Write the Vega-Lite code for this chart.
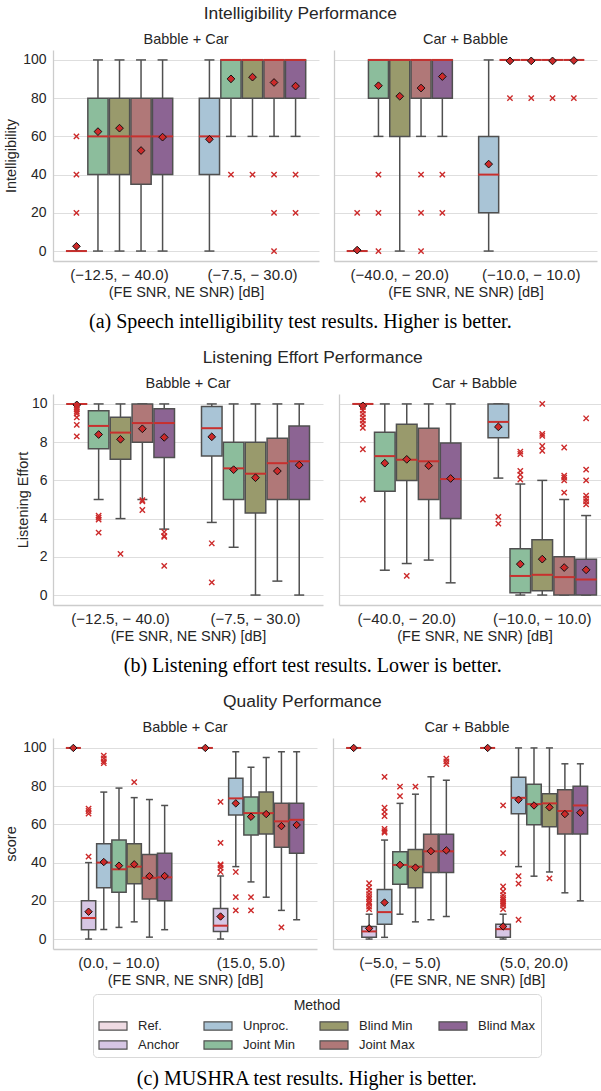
{
"$schema": "https://vega.github.io/schema/vega-lite/v6.json",
"padding": {"left": 3, "top": 5, "right": 0, "bottom": 5},
"background": "white",
"datasets": {
"int_box": [
{"n":"Babble + Car","c":"(−12.5, − 40.0)","m":"Unproc.","lo":0,"q1":0,"md":0,"q3":0,"hi":0,"mn":2.5},
{"n":"Babble + Car","c":"(−12.5, − 40.0)","m":"Joint Min","lo":0,"q1":40,"md":60,"q3":80,"hi":100,"mn":62.5},
{"n":"Babble + Car","c":"(−12.5, − 40.0)","m":"Blind Min","lo":0,"q1":40,"md":60,"q3":80,"hi":100,"mn":64.3},
{"n":"Babble + Car","c":"(−12.5, − 40.0)","m":"Joint Max","lo":0,"q1":35,"md":60,"q3":80,"hi":100,"mn":52.6},
{"n":"Babble + Car","c":"(−12.5, − 40.0)","m":"Blind Max","lo":0,"q1":40,"md":60,"q3":80,"hi":100,"mn":59.6},
{"n":"Babble + Car","c":"(−7.5, − 30.0)","m":"Unproc.","lo":0,"q1":40,"md":60,"q3":80,"hi":100,"mn":58.5},
{"n":"Babble + Car","c":"(−7.5, − 30.0)","m":"Joint Min","lo":60,"q1":80,"md":100,"q3":100,"hi":100,"mn":90.1},
{"n":"Babble + Car","c":"(−7.5, − 30.0)","m":"Blind Min","lo":60,"q1":80,"md":100,"q3":100,"hi":100,"mn":91},
{"n":"Babble + Car","c":"(−7.5, − 30.0)","m":"Joint Max","lo":60,"q1":80,"md":100,"q3":100,"hi":100,"mn":88.2},
{"n":"Babble + Car","c":"(−7.5, − 30.0)","m":"Blind Max","lo":60,"q1":80,"md":100,"q3":100,"hi":100,"mn":86.3},
{"n":"Car + Babble","c":"(−40.0, − 20.0)","m":"Unproc.","lo":0,"q1":0,"md":0,"q3":0,"hi":0,"mn":0.5},
{"n":"Car + Babble","c":"(−40.0, − 20.0)","m":"Joint Min","lo":60,"q1":80,"md":100,"q3":100,"hi":100,"mn":86.5},
{"n":"Car + Babble","c":"(−40.0, − 20.0)","m":"Blind Min","lo":0,"q1":60,"md":100,"q3":100,"hi":100,"mn":81},
{"n":"Car + Babble","c":"(−40.0, − 20.0)","m":"Joint Max","lo":60,"q1":80,"md":100,"q3":100,"hi":100,"mn":85.3},
{"n":"Car + Babble","c":"(−40.0, − 20.0)","m":"Blind Max","lo":60,"q1":80,"md":100,"q3":100,"hi":100,"mn":91.3},
{"n":"Car + Babble","c":"(−10.0, − 10.0)","m":"Unproc.","lo":0,"q1":20,"md":40,"q3":60,"hi":100,"mn":45.5},
{"n":"Car + Babble","c":"(−10.0, − 10.0)","m":"Joint Min","lo":100,"q1":100,"md":100,"q3":100,"hi":100,"mn":99.5},
{"n":"Car + Babble","c":"(−10.0, − 10.0)","m":"Blind Min","lo":100,"q1":100,"md":100,"q3":100,"hi":100,"mn":99.5},
{"n":"Car + Babble","c":"(−10.0, − 10.0)","m":"Joint Max","lo":100,"q1":100,"md":100,"q3":100,"hi":100,"mn":99.5},
{"n":"Car + Babble","c":"(−10.0, − 10.0)","m":"Blind Max","lo":100,"q1":100,"md":100,"q3":100,"hi":100,"mn":99.7}
],
"int_out": [
{"n":"Babble + Car","c":"(−12.5, − 40.0)","m":"Unproc.","v":20},
{"n":"Babble + Car","c":"(−12.5, − 40.0)","m":"Unproc.","v":40},
{"n":"Babble + Car","c":"(−12.5, − 40.0)","m":"Unproc.","v":60},
{"n":"Babble + Car","c":"(−7.5, − 30.0)","m":"Joint Min","v":40},
{"n":"Babble + Car","c":"(−7.5, − 30.0)","m":"Blind Min","v":40},
{"n":"Babble + Car","c":"(−7.5, − 30.0)","m":"Joint Max","v":40},
{"n":"Babble + Car","c":"(−7.5, − 30.0)","m":"Joint Max","v":20},
{"n":"Babble + Car","c":"(−7.5, − 30.0)","m":"Joint Max","v":0},
{"n":"Babble + Car","c":"(−7.5, − 30.0)","m":"Blind Max","v":40},
{"n":"Babble + Car","c":"(−7.5, − 30.0)","m":"Blind Max","v":20},
{"n":"Car + Babble","c":"(−40.0, − 20.0)","m":"Unproc.","v":20},
{"n":"Car + Babble","c":"(−40.0, − 20.0)","m":"Joint Min","v":40},
{"n":"Car + Babble","c":"(−40.0, − 20.0)","m":"Joint Min","v":20},
{"n":"Car + Babble","c":"(−40.0, − 20.0)","m":"Joint Min","v":0},
{"n":"Car + Babble","c":"(−40.0, − 20.0)","m":"Joint Max","v":40},
{"n":"Car + Babble","c":"(−40.0, − 20.0)","m":"Joint Max","v":20},
{"n":"Car + Babble","c":"(−40.0, − 20.0)","m":"Joint Max","v":0},
{"n":"Car + Babble","c":"(−40.0, − 20.0)","m":"Blind Max","v":40},
{"n":"Car + Babble","c":"(−40.0, − 20.0)","m":"Blind Max","v":20},
{"n":"Car + Babble","c":"(−10.0, − 10.0)","m":"Joint Min","v":80},
{"n":"Car + Babble","c":"(−10.0, − 10.0)","m":"Blind Min","v":80},
{"n":"Car + Babble","c":"(−10.0, − 10.0)","m":"Joint Max","v":80},
{"n":"Car + Babble","c":"(−10.0, − 10.0)","m":"Blind Max","v":80}
],
"le_box": [
{"n":"Babble + Car","c":"(−12.5, − 40.0)","m":"Unproc.","lo":10,"q1":10,"md":10,"q3":10,"hi":10,"mn":9.95},
{"n":"Babble + Car","c":"(−12.5, − 40.0)","m":"Joint Min","lo":5.0,"q1":7.65,"md":8.85,"q3":9.65,"hi":10,"mn":8.4},
{"n":"Babble + Car","c":"(−12.5, − 40.0)","m":"Blind Min","lo":4.0,"q1":7.1,"md":8.5,"q3":9.3,"hi":10,"mn":8.15},
{"n":"Babble + Car","c":"(−12.5, − 40.0)","m":"Joint Max","lo":5.0,"q1":8.0,"md":9.0,"q3":10,"hi":10,"mn":8.7},
{"n":"Babble + Car","c":"(−12.5, − 40.0)","m":"Blind Max","lo":3.45,"q1":7.2,"md":9.0,"q3":9.75,"hi":10,"mn":8.25},
{"n":"Babble + Car","c":"(−7.5, − 30.0)","m":"Unproc.","lo":3.8,"q1":7.27,"md":8.73,"q3":9.86,"hi":10,"mn":8.28},
{"n":"Babble + Car","c":"(−7.5, − 30.0)","m":"Joint Min","lo":2.5,"q1":5.0,"md":6.63,"q3":8.0,"hi":10,"mn":6.56},
{"n":"Babble + Car","c":"(−7.5, − 30.0)","m":"Blind Min","lo":0,"q1":4.3,"md":6.35,"q3":8.0,"hi":10,"mn":6.14},
{"n":"Babble + Car","c":"(−7.5, − 30.0)","m":"Joint Max","lo":0.73,"q1":5.0,"md":6.9,"q3":8.2,"hi":10,"mn":6.49},
{"n":"Babble + Car","c":"(−7.5, − 30.0)","m":"Blind Max","lo":0,"q1":5.0,"md":7.0,"q3":8.85,"hi":10,"mn":6.8},
{"n":"Car + Babble","c":"(−40.0, − 20.0)","m":"Unproc.","lo":10,"q1":10,"md":10,"q3":10,"hi":10,"mn":9.9},
{"n":"Car + Babble","c":"(−40.0, − 20.0)","m":"Joint Min","lo":1.3,"q1":5.43,"md":7.27,"q3":8.52,"hi":10,"mn":6.9},
{"n":"Car + Babble","c":"(−40.0, − 20.0)","m":"Blind Min","lo":1.65,"q1":6.0,"md":7.08,"q3":8.94,"hi":10,"mn":7.1},
{"n":"Car + Babble","c":"(−40.0, − 20.0)","m":"Joint Max","lo":1.83,"q1":5.0,"md":7.0,"q3":8.73,"hi":10,"mn":6.77},
{"n":"Car + Babble","c":"(−40.0, − 20.0)","m":"Blind Max","lo":0.64,"q1":4.0,"md":6.07,"q3":7.95,"hi":10,"mn":6.1},
{"n":"Car + Babble","c":"(−10.0, − 10.0)","m":"Unproc.","lo":6.12,"q1":8.23,"md":9.06,"q3":10,"hi":10,"mn":8.8},
{"n":"Car + Babble","c":"(−10.0, − 10.0)","m":"Joint Min","lo":0,"q1":0.12,"md":1.0,"q3":2.42,"hi":5.81,"mn":1.62},
{"n":"Car + Babble","c":"(−10.0, − 10.0)","m":"Blind Min","lo":0,"q1":0.23,"md":1.06,"q3":2.9,"hi":6.0,"mn":1.88},
{"n":"Car + Babble","c":"(−10.0, − 10.0)","m":"Joint Max","lo":0,"q1":0,"md":0.94,"q3":2.0,"hi":5.0,"mn":1.44},
{"n":"Car + Babble","c":"(−10.0, − 10.0)","m":"Blind Max","lo":0,"q1":0,"md":0.82,"q3":1.88,"hi":4.16,"mn":1.32}
],
"le_out": [
{"n":"Babble + Car","c":"(−12.5, − 40.0)","m":"Unproc.","v":9.9},
{"n":"Babble + Car","c":"(−12.5, − 40.0)","m":"Unproc.","v":9.8},
{"n":"Babble + Car","c":"(−12.5, − 40.0)","m":"Unproc.","v":9.7},
{"n":"Babble + Car","c":"(−12.5, − 40.0)","m":"Unproc.","v":9.6},
{"n":"Babble + Car","c":"(−12.5, − 40.0)","m":"Unproc.","v":9.5},
{"n":"Babble + Car","c":"(−12.5, − 40.0)","m":"Unproc.","v":9.3},
{"n":"Babble + Car","c":"(−12.5, − 40.0)","m":"Unproc.","v":8.9},
{"n":"Babble + Car","c":"(−12.5, − 40.0)","m":"Unproc.","v":8.3},
{"n":"Babble + Car","c":"(−12.5, − 40.0)","m":"Joint Min","v":4.15},
{"n":"Babble + Car","c":"(−12.5, − 40.0)","m":"Joint Min","v":4.05},
{"n":"Babble + Car","c":"(−12.5, − 40.0)","m":"Joint Min","v":3.95},
{"n":"Babble + Car","c":"(−12.5, − 40.0)","m":"Joint Min","v":3.27},
{"n":"Babble + Car","c":"(−12.5, − 40.0)","m":"Blind Min","v":2.16},
{"n":"Babble + Car","c":"(−12.5, − 40.0)","m":"Joint Max","v":4.97},
{"n":"Babble + Car","c":"(−12.5, − 40.0)","m":"Joint Max","v":4.9},
{"n":"Babble + Car","c":"(−12.5, − 40.0)","m":"Joint Max","v":4.45},
{"n":"Babble + Car","c":"(−12.5, − 40.0)","m":"Blind Max","v":3.3},
{"n":"Babble + Car","c":"(−12.5, − 40.0)","m":"Blind Max","v":3.1},
{"n":"Babble + Car","c":"(−12.5, − 40.0)","m":"Blind Max","v":3.05},
{"n":"Babble + Car","c":"(−12.5, − 40.0)","m":"Blind Max","v":1.53},
{"n":"Babble + Car","c":"(−7.5, − 30.0)","m":"Unproc.","v":2.71},
{"n":"Babble + Car","c":"(−7.5, − 30.0)","m":"Unproc.","v":0.66},
{"n":"Car + Babble","c":"(−40.0, − 20.0)","m":"Unproc.","v":9.83},
{"n":"Car + Babble","c":"(−40.0, − 20.0)","m":"Unproc.","v":9.65},
{"n":"Car + Babble","c":"(−40.0, − 20.0)","m":"Unproc.","v":9.48},
{"n":"Car + Babble","c":"(−40.0, − 20.0)","m":"Unproc.","v":9.3},
{"n":"Car + Babble","c":"(−40.0, − 20.0)","m":"Unproc.","v":9.13},
{"n":"Car + Babble","c":"(−40.0, − 20.0)","m":"Unproc.","v":8.96},
{"n":"Car + Babble","c":"(−40.0, − 20.0)","m":"Unproc.","v":8.75},
{"n":"Car + Babble","c":"(−40.0, − 20.0)","m":"Unproc.","v":7.63},
{"n":"Car + Babble","c":"(−40.0, − 20.0)","m":"Unproc.","v":5.0},
{"n":"Car + Babble","c":"(−40.0, − 20.0)","m":"Blind Min","v":1.0},
{"n":"Car + Babble","c":"(−10.0, − 10.0)","m":"Unproc.","v":4.09},
{"n":"Car + Babble","c":"(−10.0, − 10.0)","m":"Unproc.","v":3.74},
{"n":"Car + Babble","c":"(−10.0, − 10.0)","m":"Joint Min","v":7.5},
{"n":"Car + Babble","c":"(−10.0, − 10.0)","m":"Joint Min","v":7.38},
{"n":"Car + Babble","c":"(−10.0, − 10.0)","m":"Joint Min","v":6.5},
{"n":"Car + Babble","c":"(−10.0, − 10.0)","m":"Joint Min","v":6.3},
{"n":"Car + Babble","c":"(−10.0, − 10.0)","m":"Joint Min","v":6.04},
{"n":"Car + Babble","c":"(−10.0, − 10.0)","m":"Blind Min","v":10.0},
{"n":"Car + Babble","c":"(−10.0, − 10.0)","m":"Blind Min","v":8.43},
{"n":"Car + Babble","c":"(−10.0, − 10.0)","m":"Blind Min","v":8.33},
{"n":"Car + Babble","c":"(−10.0, − 10.0)","m":"Blind Min","v":7.8},
{"n":"Car + Babble","c":"(−10.0, − 10.0)","m":"Blind Min","v":7.55},
{"n":"Car + Babble","c":"(−10.0, − 10.0)","m":"Joint Max","v":7.72},
{"n":"Car + Babble","c":"(−10.0, − 10.0)","m":"Joint Max","v":6.25},
{"n":"Car + Babble","c":"(−10.0, − 10.0)","m":"Joint Max","v":6.14},
{"n":"Car + Babble","c":"(−10.0, − 10.0)","m":"Joint Max","v":6.0},
{"n":"Car + Babble","c":"(−10.0, − 10.0)","m":"Joint Max","v":5.36},
{"n":"Car + Babble","c":"(−10.0, − 10.0)","m":"Blind Max","v":9.25},
{"n":"Car + Babble","c":"(−10.0, − 10.0)","m":"Blind Max","v":6.56},
{"n":"Car + Babble","c":"(−10.0, − 10.0)","m":"Blind Max","v":6.0},
{"n":"Car + Babble","c":"(−10.0, − 10.0)","m":"Blind Max","v":5.2},
{"n":"Car + Babble","c":"(−10.0, − 10.0)","m":"Blind Max","v":5.04},
{"n":"Car + Babble","c":"(−10.0, − 10.0)","m":"Blind Max","v":4.9},
{"n":"Car + Babble","c":"(−10.0, − 10.0)","m":"Blind Max","v":4.74}
],
"q_box": [
{"n":"Babble + Car","c":"(0.0, − 10.0)","m":"Ref.","lo":100,"q1":100,"md":100,"q3":100,"hi":100,"mn":100},
{"n":"Babble + Car","c":"(0.0, − 10.0)","m":"Anchor","lo":0,"q1":4.9,"md":11,"q3":20,"hi":40,"mn":14.3},
{"n":"Babble + Car","c":"(0.0, − 10.0)","m":"Unproc.","lo":5,"q1":26.8,"md":40,"q3":49.9,"hi":76.9,"mn":40.3},
{"n":"Babble + Car","c":"(0.0, − 10.0)","m":"Joint Min","lo":6.1,"q1":24.5,"md":36.5,"q3":51.8,"hi":79,"mn":38.4},
{"n":"Babble + Car","c":"(0.0, − 10.0)","m":"Blind Min","lo":9,"q1":28.9,"md":37.9,"q3":49.9,"hi":74,"mn":39.1},
{"n":"Babble + Car","c":"(0.0, − 10.0)","m":"Joint Max","lo":1,"q1":20.9,"md":32,"q3":44.2,"hi":73,"mn":32.9},
{"n":"Babble + Car","c":"(0.0, − 10.0)","m":"Blind Max","lo":4.9,"q1":20,"md":32.3,"q3":44.9,"hi":69.9,"mn":33},
{"n":"Babble + Car","c":"(15.0, 5.0)","m":"Ref.","lo":100,"q1":100,"md":100,"q3":100,"hi":100,"mn":100},
{"n":"Babble + Car","c":"(15.0, 5.0)","m":"Anchor","lo":0,"q1":4,"md":7,"q3":16,"hi":33,"mn":11.8},
{"n":"Babble + Car","c":"(15.0, 5.0)","m":"Unproc.","lo":37.9,"q1":64.9,"md":73.6,"q3":84.2,"hi":98,"mn":71},
{"n":"Babble + Car","c":"(15.0, 5.0)","m":"Joint Min","lo":29.9,"q1":54.4,"md":65.9,"q3":74.3,"hi":89.9,"mn":64},
{"n":"Babble + Car","c":"(15.0, 5.0)","m":"Blind Min","lo":21.9,"q1":55,"md":65.9,"q3":77,"hi":95,"mn":65.4},
{"n":"Babble + Car","c":"(15.0, 5.0)","m":"Joint Max","lo":15,"q1":48,"md":61.6,"q3":71,"hi":98,"mn":59.1},
{"n":"Babble + Car","c":"(15.0, 5.0)","m":"Blind Max","lo":10.1,"q1":44.9,"md":62.4,"q3":71,"hi":98,"mn":59.7},
{"n":"Car + Babble","c":"(−5.0, − 5.0)","m":"Ref.","lo":100,"q1":100,"md":100,"q3":100,"hi":100,"mn":100},
{"n":"Car + Babble","c":"(−5.0, − 5.0)","m":"Anchor","lo":0,"q1":0.9,"md":4,"q3":6.6,"hi":13,"mn":5.6},
{"n":"Car + Babble","c":"(−5.0, − 5.0)","m":"Unproc.","lo":0.9,"q1":7.8,"md":14.1,"q3":25.9,"hi":51.8,"mn":19.1},
{"n":"Car + Babble","c":"(−5.0, − 5.0)","m":"Joint Min","lo":13,"q1":28.7,"md":38.8,"q3":45.7,"hi":71,"mn":38.8},
{"n":"Car + Babble","c":"(−5.0, − 5.0)","m":"Blind Min","lo":9,"q1":26.8,"md":37.9,"q3":46.8,"hi":75.8,"mn":37.4},
{"n":"Car + Babble","c":"(−5.0, − 5.0)","m":"Joint Max","lo":10.1,"q1":34.8,"md":45.9,"q3":54.8,"hi":84.9,"mn":46},
{"n":"Car + Babble","c":"(−5.0, − 5.0)","m":"Blind Max","lo":11.8,"q1":34.8,"md":45.9,"q3":54.8,"hi":83.1,"mn":46.4},
{"n":"Car + Babble","c":"(5.0, 20.0)","m":"Ref.","lo":100,"q1":100,"md":100,"q3":100,"hi":100,"mn":100},
{"n":"Car + Babble","c":"(5.0, 20.0)","m":"Anchor","lo":0,"q1":0.9,"md":5.2,"q3":7.8,"hi":13,"mn":6.6},
{"n":"Car + Babble","c":"(5.0, 20.0)","m":"Unproc.","lo":37.9,"q1":65.6,"md":73.9,"q3":84.7,"hi":100,"mn":72.9},
{"n":"Car + Babble","c":"(5.0, 20.0)","m":"Joint Min","lo":32.9,"q1":59.8,"md":70.6,"q3":81,"hi":100,"mn":69.9},
{"n":"Car + Babble","c":"(5.0, 20.0)","m":"Blind Min","lo":35.1,"q1":58.8,"md":71,"q3":76,"hi":100,"mn":68.9},
{"n":"Car + Babble","c":"(5.0, 20.0)","m":"Joint Max","lo":24.2,"q1":55,"md":67,"q3":78.1,"hi":91.7,"mn":65.4},
{"n":"Car + Babble","c":"(5.0, 20.0)","m":"Blind Max","lo":20,"q1":55,"md":69.9,"q3":80,"hi":91.7,"mn":66.1}
],
"q_out": [
{"n":"Babble + Car","c":"(0.0, − 10.0)","m":"Anchor","v":43.1},
{"n":"Babble + Car","c":"(0.0, − 10.0)","m":"Anchor","v":68.2},
{"n":"Babble + Car","c":"(0.0, − 10.0)","m":"Anchor","v":67},
{"n":"Babble + Car","c":"(0.0, − 10.0)","m":"Anchor","v":65.6},
{"n":"Babble + Car","c":"(0.0, − 10.0)","m":"Unproc.","v":96},
{"n":"Babble + Car","c":"(0.0, − 10.0)","m":"Unproc.","v":94.5},
{"n":"Babble + Car","c":"(0.0, − 10.0)","m":"Unproc.","v":93},
{"n":"Babble + Car","c":"(0.0, − 10.0)","m":"Unproc.","v":92},
{"n":"Babble + Car","c":"(0.0, − 10.0)","m":"Blind Min","v":82.1},
{"n":"Babble + Car","c":"(15.0, 5.0)","m":"Anchor","v":35.1},
{"n":"Babble + Car","c":"(15.0, 5.0)","m":"Anchor","v":37.2},
{"n":"Babble + Car","c":"(15.0, 5.0)","m":"Anchor","v":38.5},
{"n":"Babble + Car","c":"(15.0, 5.0)","m":"Anchor","v":39.1},
{"n":"Babble + Car","c":"(15.0, 5.0)","m":"Anchor","v":50.3},
{"n":"Babble + Car","c":"(15.0, 5.0)","m":"Anchor","v":71.8},
{"n":"Babble + Car","c":"(15.0, 5.0)","m":"Unproc.","v":35.1},
{"n":"Babble + Car","c":"(15.0, 5.0)","m":"Unproc.","v":21.9},
{"n":"Babble + Car","c":"(15.0, 5.0)","m":"Unproc.","v":15},
{"n":"Babble + Car","c":"(15.0, 5.0)","m":"Joint Min","v":21.9},
{"n":"Babble + Car","c":"(15.0, 5.0)","m":"Joint Min","v":15},
{"n":"Babble + Car","c":"(15.0, 5.0)","m":"Joint Max","v":6.1},
{"n":"Car + Babble","c":"(−5.0, − 5.0)","m":"Anchor","v":29.2},
{"n":"Car + Babble","c":"(−5.0, − 5.0)","m":"Anchor","v":27},
{"n":"Car + Babble","c":"(−5.0, − 5.0)","m":"Anchor","v":25.2},
{"n":"Car + Babble","c":"(−5.0, − 5.0)","m":"Anchor","v":23.5},
{"n":"Car + Babble","c":"(−5.0, − 5.0)","m":"Anchor","v":22},
{"n":"Car + Babble","c":"(−5.0, − 5.0)","m":"Anchor","v":20.9},
{"n":"Car + Babble","c":"(−5.0, − 5.0)","m":"Anchor","v":19.5},
{"n":"Car + Babble","c":"(−5.0, − 5.0)","m":"Anchor","v":18.5},
{"n":"Car + Babble","c":"(−5.0, − 5.0)","m":"Anchor","v":17},
{"n":"Car + Babble","c":"(−5.0, − 5.0)","m":"Anchor","v":15.7},
{"n":"Car + Babble","c":"(−5.0, − 5.0)","m":"Unproc.","v":84.9},
{"n":"Car + Babble","c":"(−5.0, − 5.0)","m":"Unproc.","v":68.7},
{"n":"Car + Babble","c":"(−5.0, − 5.0)","m":"Unproc.","v":66.5},
{"n":"Car + Babble","c":"(−5.0, − 5.0)","m":"Unproc.","v":64.3},
{"n":"Car + Babble","c":"(−5.0, − 5.0)","m":"Unproc.","v":57.7},
{"n":"Car + Babble","c":"(−5.0, − 5.0)","m":"Unproc.","v":56.5},
{"n":"Car + Babble","c":"(−5.0, − 5.0)","m":"Unproc.","v":55.7},
{"n":"Car + Babble","c":"(−5.0, − 5.0)","m":"Joint Min","v":79.8},
{"n":"Car + Babble","c":"(−5.0, − 5.0)","m":"Joint Min","v":74.8},
{"n":"Car + Babble","c":"(−5.0, − 5.0)","m":"Blind Min","v":79.8},
{"n":"Car + Babble","c":"(−5.0, − 5.0)","m":"Blind Max","v":94.4},
{"n":"Car + Babble","c":"(−5.0, − 5.0)","m":"Blind Max","v":93},
{"n":"Car + Babble","c":"(−5.0, − 5.0)","m":"Blind Max","v":91.6},
{"n":"Car + Babble","c":"(5.0, 20.0)","m":"Anchor","v":69.9},
{"n":"Car + Babble","c":"(5.0, 20.0)","m":"Anchor","v":45},
{"n":"Car + Babble","c":"(5.0, 20.0)","m":"Anchor","v":27.5},
{"n":"Car + Babble","c":"(5.0, 20.0)","m":"Anchor","v":25},
{"n":"Car + Babble","c":"(5.0, 20.0)","m":"Anchor","v":23},
{"n":"Car + Babble","c":"(5.0, 20.0)","m":"Anchor","v":21.5},
{"n":"Car + Babble","c":"(5.0, 20.0)","m":"Anchor","v":20.5},
{"n":"Car + Babble","c":"(5.0, 20.0)","m":"Anchor","v":19.5},
{"n":"Car + Babble","c":"(5.0, 20.0)","m":"Anchor","v":18.5},
{"n":"Car + Babble","c":"(5.0, 20.0)","m":"Anchor","v":17.5},
{"n":"Car + Babble","c":"(5.0, 20.0)","m":"Anchor","v":15.7},
{"n":"Car + Babble","c":"(5.0, 20.0)","m":"Unproc.","v":32.9},
{"n":"Car + Babble","c":"(5.0, 20.0)","m":"Unproc.","v":29},
{"n":"Car + Babble","c":"(5.0, 20.0)","m":"Unproc.","v":10.1},
{"n":"Car + Babble","c":"(5.0, 20.0)","m":"Blind Min","v":31.8}
]
},
"vconcat": [
{
"vconcat": [{
"hconcat": [
{
"width": 266, "height": 211,
"title": {"text": "Babble + Car", "fontSize": 14.5, "frame": "group", "offset": 3},
"encoding": {
"x": {"field": "c", "type": "nominal", "scale": {"domain": ["(−12.5, − 40.0)", "(−7.5, − 30.0)"], "paddingInner": 0.2, "paddingOuter": 0.1}, "axis": {"title": "(FE SNR, NE SNR) [dB]"}},
"xOffset": {"field": "m", "type": "nominal", "scale": {"domain": ["Unproc.", "Joint Min", "Blind Min", "Joint Max", "Blind Max"], "paddingInner": 0.06, "paddingOuter": 0}}
},
"layer": [
{"data": {"name": "int_box"}, "transform": [{"filter": "datum.n === 'Babble + Car'"}],
"layer": [
{"mark": {"type": "rule", "color": "#505050", "strokeWidth": 1.5}, "encoding": {"y": {"field": "lo", "type": "quantitative", "scale": {"domain": [-5.2, 105.2], "nice": false, "zero": false}, "axis": {"title": "Intelligibility", "values": [0, 20, 40, 60, 80, 100]}}, "y2": {"field": "hi"}}},
{"mark": {"type": "tick", "color": "#505050", "thickness": 1.5, "size": 10, "opacity": 1}, "encoding": {"y": {"field": "lo", "type": "quantitative"}}},
{"mark": {"type": "tick", "color": "#505050", "thickness": 1.5, "size": 10, "opacity": 1}, "encoding": {"y": {"field": "hi", "type": "quantitative"}}},
{"mark": {"type": "bar", "stroke": "#505050", "strokeWidth": 1.5, "opacity": 1}, "encoding": {"y": {"field": "q1", "type": "quantitative"}, "y2": {"field": "q3"}, "color": {"field": "m", "type": "nominal", "scale": {"domain": ["Ref.", "Unproc.", "Blind Min", "Blind Max", "Anchor", "Joint Min", "Joint Max"], "range": ["#efdbe3", "#a9c4d6", "#999a6c", "#8c6493", "#d6c6e4", "#8cbd9c", "#b07878"]}, "legend": {"title": "Method", "orient": "none", "legendX": 40, "legendY": 944}}}},
{"mark": {"type": "tick", "color": "#c8302e", "thickness": 2, "size": 21, "opacity": 1}, "encoding": {"y": {"field": "md", "type": "quantitative"}}},
{"mark": {"type": "point", "shape": "diamond", "filled": true, "fill": "#cc2a2a", "stroke": "#111111", "strokeWidth": 1, "size": 60, "opacity": 1}, "encoding": {"y": {"field": "mn", "type": "quantitative"}}}
]},
{"data": {"name": "int_out"}, "transform": [{"filter": "datum.n === 'Babble + Car'"}],
"mark": {"type": "point", "shape": "M-1,-1L1,1M1,-1L-1,1", "filled": false, "stroke": "#cc2a2a", "strokeWidth": 1.4, "size": 28, "opacity": 1},
"encoding": {"y": {"field": "v", "type": "quantitative"}}}
]
},
{
"width": 263, "height": 211,
"title": {"text": "Car + Babble", "fontSize": 14.5, "frame": "group", "offset": 3},
"encoding": {
"x": {"field": "c", "type": "nominal", "scale": {"domain": ["(−40.0, − 20.0)", "(−10.0, − 10.0)"], "paddingInner": 0.2, "paddingOuter": 0.1}, "axis": {"title": "(FE SNR, NE SNR) [dB]"}},
"xOffset": {"field": "m", "type": "nominal", "scale": {"domain": ["Unproc.", "Joint Min", "Blind Min", "Joint Max", "Blind Max"], "paddingInner": 0.06, "paddingOuter": 0}}
},
"layer": [
{"data": {"name": "int_box"}, "transform": [{"filter": "datum.n === 'Car + Babble'"}],
"layer": [
{"mark": {"type": "rule", "color": "#505050", "strokeWidth": 1.5}, "encoding": {"y": {"field": "lo", "type": "quantitative", "scale": {"domain": [-5.2, 105.2], "nice": false, "zero": false}, "axis": {"title": null, "labels": false, "values": [0, 20, 40, 60, 80, 100]}}, "y2": {"field": "hi"}}},
{"mark": {"type": "tick", "color": "#505050", "thickness": 1.5, "size": 10, "opacity": 1}, "encoding": {"y": {"field": "lo", "type": "quantitative"}}},
{"mark": {"type": "tick", "color": "#505050", "thickness": 1.5, "size": 10, "opacity": 1}, "encoding": {"y": {"field": "hi", "type": "quantitative"}}},
{"mark": {"type": "bar", "stroke": "#505050", "strokeWidth": 1.5, "opacity": 1}, "encoding": {"y": {"field": "q1", "type": "quantitative"}, "y2": {"field": "q3"}, "color": {"field": "m", "type": "nominal"}}},
{"mark": {"type": "tick", "color": "#c8302e", "thickness": 2, "size": 21, "opacity": 1}, "encoding": {"y": {"field": "md", "type": "quantitative"}}},
{"mark": {"type": "point", "shape": "diamond", "filled": true, "fill": "#cc2a2a", "stroke": "#111111", "strokeWidth": 1, "size": 60, "opacity": 1}, "encoding": {"y": {"field": "mn", "type": "quantitative"}}}
]},
{"data": {"name": "int_out"}, "transform": [{"filter": "datum.n === 'Car + Babble'"}],
"mark": {"type": "point", "shape": "M-1,-1L1,1M1,-1L-1,1", "filled": false, "stroke": "#cc2a2a", "strokeWidth": 1.4, "size": 28, "opacity": 1},
"encoding": {"y": {"field": "v", "type": "quantitative"}}}
]
}
],
"spacing": 15,
"resolve": {"scale": {"xOffset": "independent"}},
"title": {"text": "Intelligibility Performance", "offset": 9}
}],
"resolve": {"scale": {"xOffset": "independent"}},
"title": {"text": "(a) Speech intelligibility test results. Higher is better.", "orient": "bottom", "font": "Liberation Serif", "fontSize": 20, "color": "#000000", "offset": 13}
},
{
"vconcat": [{
"hconcat": [
{
"width": 270, "height": 211,
"title": {"text": "Babble + Car", "fontSize": 14.5, "frame": "group", "offset": 3},
"encoding": {
"x": {"field": "c", "type": "nominal", "scale": {"domain": ["(−12.5, − 40.0)", "(−7.5, − 30.0)"], "paddingInner": 0.2, "paddingOuter": 0.1}, "axis": {"title": "(FE SNR, NE SNR) [dB]"}},
"xOffset": {"field": "m", "type": "nominal", "scale": {"domain": ["Unproc.", "Joint Min", "Blind Min", "Joint Max", "Blind Max"], "paddingInner": 0.06, "paddingOuter": 0}}
},
"layer": [
{"data": {"name": "le_box"}, "transform": [{"filter": "datum.n === 'Babble + Car'"}],
"layer": [
{"mark": {"type": "rule", "color": "#505050", "strokeWidth": 1.5}, "encoding": {"y": {"field": "lo", "type": "quantitative", "scale": {"domain": [-0.52, 10.52], "nice": false, "zero": false}, "axis": {"title": "Listening Effort", "values": [0, 2, 4, 6, 8, 10], "titlePadding": 1, "labelPadding": 6}}, "y2": {"field": "hi"}}},
{"mark": {"type": "tick", "color": "#505050", "thickness": 1.5, "size": 10, "opacity": 1}, "encoding": {"y": {"field": "lo", "type": "quantitative"}}},
{"mark": {"type": "tick", "color": "#505050", "thickness": 1.5, "size": 10, "opacity": 1}, "encoding": {"y": {"field": "hi", "type": "quantitative"}}},
{"mark": {"type": "bar", "stroke": "#505050", "strokeWidth": 1.5, "opacity": 1}, "encoding": {"y": {"field": "q1", "type": "quantitative"}, "y2": {"field": "q3"}, "color": {"field": "m", "type": "nominal"}}},
{"mark": {"type": "tick", "color": "#c8302e", "thickness": 2, "size": 21, "opacity": 1}, "encoding": {"y": {"field": "md", "type": "quantitative"}}},
{"mark": {"type": "point", "shape": "diamond", "filled": true, "fill": "#cc2a2a", "stroke": "#111111", "strokeWidth": 1, "size": 60, "opacity": 1}, "encoding": {"y": {"field": "mn", "type": "quantitative"}}}
]},
{"data": {"name": "le_out"}, "transform": [{"filter": "datum.n === 'Babble + Car'"}],
"mark": {"type": "point", "shape": "M-1,-1L1,1M1,-1L-1,1", "filled": false, "stroke": "#cc2a2a", "strokeWidth": 1.4, "size": 28, "opacity": 1},
"encoding": {"y": {"field": "v", "type": "quantitative"}}}
]
},
{
"width": 271, "height": 211,
"title": {"text": "Car + Babble", "fontSize": 14.5, "frame": "group", "offset": 3},
"encoding": {
"x": {"field": "c", "type": "nominal", "scale": {"domain": ["(−40.0, − 20.0)", "(−10.0, − 10.0)"], "paddingInner": 0.2, "paddingOuter": 0.1}, "axis": {"title": "(FE SNR, NE SNR) [dB]"}},
"xOffset": {"field": "m", "type": "nominal", "scale": {"domain": ["Unproc.", "Joint Min", "Blind Min", "Joint Max", "Blind Max"], "paddingInner": 0.06, "paddingOuter": 0}}
},
"layer": [
{"data": {"name": "le_box"}, "transform": [{"filter": "datum.n === 'Car + Babble'"}],
"layer": [
{"mark": {"type": "rule", "color": "#505050", "strokeWidth": 1.5}, "encoding": {"y": {"field": "lo", "type": "quantitative", "scale": {"domain": [-0.52, 10.52], "nice": false, "zero": false}, "axis": {"title": null, "labels": false, "values": [0, 2, 4, 6, 8, 10]}}, "y2": {"field": "hi"}}},
{"mark": {"type": "tick", "color": "#505050", "thickness": 1.5, "size": 10, "opacity": 1}, "encoding": {"y": {"field": "lo", "type": "quantitative"}}},
{"mark": {"type": "tick", "color": "#505050", "thickness": 1.5, "size": 10, "opacity": 1}, "encoding": {"y": {"field": "hi", "type": "quantitative"}}},
{"mark": {"type": "bar", "stroke": "#505050", "strokeWidth": 1.5, "opacity": 1}, "encoding": {"y": {"field": "q1", "type": "quantitative"}, "y2": {"field": "q3"}, "color": {"field": "m", "type": "nominal"}}},
{"mark": {"type": "tick", "color": "#c8302e", "thickness": 2, "size": 21, "opacity": 1}, "encoding": {"y": {"field": "md", "type": "quantitative"}}},
{"mark": {"type": "point", "shape": "diamond", "filled": true, "fill": "#cc2a2a", "stroke": "#111111", "strokeWidth": 1, "size": 60, "opacity": 1}, "encoding": {"y": {"field": "mn", "type": "quantitative"}}}
]},
{"data": {"name": "le_out"}, "transform": [{"filter": "datum.n === 'Car + Babble'"}],
"mark": {"type": "point", "shape": "M-1,-1L1,1M1,-1L-1,1", "filled": false, "stroke": "#cc2a2a", "strokeWidth": 1.4, "size": 28, "opacity": 1},
"encoding": {"y": {"field": "v", "type": "quantitative"}}}
]
}
],
"spacing": 16,
"resolve": {"scale": {"xOffset": "independent"}},
"title": {"text": "Listening Effort Performance", "offset": 9}
}],
"resolve": {"scale": {"xOffset": "independent"}},
"title": {"text": "(b) Listening effort test results. Lower is better.", "orient": "bottom", "font": "Liberation Serif", "fontSize": 20, "color": "#000000", "offset": 13}
},
{
"hconcat": [
{
"width": 264, "height": 211,
"title": {"text": "Babble + Car", "fontSize": 14.5, "frame": "group", "offset": 3},
"encoding": {
"x": {"field": "c", "type": "nominal", "scale": {"domain": ["(0.0, − 10.0)", "(15.0, 5.0)"], "paddingInner": 0.2, "paddingOuter": 0.1}, "axis": {"title": "(FE SNR, NE SNR) [dB]"}},
"xOffset": {"field": "m", "type": "nominal", "scale": {"domain": ["Ref.", "Anchor", "Unproc.", "Joint Min", "Blind Min", "Joint Max", "Blind Max"], "paddingInner": 0.06, "paddingOuter": 0}}
},
"layer": [
{"data": {"name": "q_box"}, "transform": [{"filter": "datum.n === 'Babble + Car'"}],
"layer": [
{"mark": {"type": "rule", "color": "#505050", "strokeWidth": 1.5}, "encoding": {"y": {"field": "lo", "type": "quantitative", "scale": {"domain": [-5.2, 105.2], "nice": false, "zero": false}, "axis": {"title": "score", "values": [0, 20, 40, 60, 80, 100]}}, "y2": {"field": "hi"}}},
{"mark": {"type": "tick", "color": "#505050", "thickness": 1.5, "size": 7, "opacity": 1}, "encoding": {"y": {"field": "lo", "type": "quantitative"}}},
{"mark": {"type": "tick", "color": "#505050", "thickness": 1.5, "size": 7, "opacity": 1}, "encoding": {"y": {"field": "hi", "type": "quantitative"}}},
{"mark": {"type": "bar", "stroke": "#505050", "strokeWidth": 1.5, "opacity": 1}, "encoding": {"y": {"field": "q1", "type": "quantitative"}, "y2": {"field": "q3"}, "color": {"field": "m", "type": "nominal"}}},
{"mark": {"type": "tick", "color": "#c8302e", "thickness": 2, "size": 15, "opacity": 1}, "encoding": {"y": {"field": "md", "type": "quantitative"}}},
{"mark": {"type": "point", "shape": "diamond", "filled": true, "fill": "#cc2a2a", "stroke": "#111111", "strokeWidth": 1, "size": 55, "opacity": 1}, "encoding": {"y": {"field": "mn", "type": "quantitative"}}}
]},
{"data": {"name": "q_out"}, "transform": [{"filter": "datum.n === 'Babble + Car'"}],
"mark": {"type": "point", "shape": "M-1,-1L1,1M1,-1L-1,1", "filled": false, "stroke": "#cc2a2a", "strokeWidth": 1.4, "size": 28, "opacity": 1},
"encoding": {"y": {"field": "v", "type": "quantitative"}}}
]
},
{
"width": 268, "height": 211,
"title": {"text": "Car + Babble", "fontSize": 14.5, "frame": "group", "offset": 3},
"encoding": {
"x": {"field": "c", "type": "nominal", "scale": {"domain": ["(−5.0, − 5.0)", "(5.0, 20.0)"], "paddingInner": 0.2, "paddingOuter": 0.1}, "axis": {"title": "(FE SNR, NE SNR) [dB]"}},
"xOffset": {"field": "m", "type": "nominal", "scale": {"domain": ["Ref.", "Anchor", "Unproc.", "Joint Min", "Blind Min", "Joint Max", "Blind Max"], "paddingInner": 0.06, "paddingOuter": 0}}
},
"layer": [
{"data": {"name": "q_box"}, "transform": [{"filter": "datum.n === 'Car + Babble'"}],
"layer": [
{"mark": {"type": "rule", "color": "#505050", "strokeWidth": 1.5}, "encoding": {"y": {"field": "lo", "type": "quantitative", "scale": {"domain": [-5.2, 105.2], "nice": false, "zero": false}, "axis": {"title": null, "labels": false, "values": [0, 20, 40, 60, 80, 100]}}, "y2": {"field": "hi"}}},
{"mark": {"type": "tick", "color": "#505050", "thickness": 1.5, "size": 7, "opacity": 1}, "encoding": {"y": {"field": "lo", "type": "quantitative"}}},
{"mark": {"type": "tick", "color": "#505050", "thickness": 1.5, "size": 7, "opacity": 1}, "encoding": {"y": {"field": "hi", "type": "quantitative"}}},
{"mark": {"type": "bar", "stroke": "#505050", "strokeWidth": 1.5, "opacity": 1}, "encoding": {"y": {"field": "q1", "type": "quantitative"}, "y2": {"field": "q3"}, "color": {"field": "m", "type": "nominal"}}},
{"mark": {"type": "tick", "color": "#c8302e", "thickness": 2, "size": 15, "opacity": 1}, "encoding": {"y": {"field": "md", "type": "quantitative"}}},
{"mark": {"type": "point", "shape": "diamond", "filled": true, "fill": "#cc2a2a", "stroke": "#111111", "strokeWidth": 1, "size": 55, "opacity": 1}, "encoding": {"y": {"field": "mn", "type": "quantitative"}}}
]},
{"data": {"name": "q_out"}, "transform": [{"filter": "datum.n === 'Car + Babble'"}],
"mark": {"type": "point", "shape": "M-1,-1L1,1M1,-1L-1,1", "filled": false, "stroke": "#cc2a2a", "strokeWidth": 1.4, "size": 28, "opacity": 1},
"encoding": {"y": {"field": "v", "type": "quantitative"}}}
]
}
],
"spacing": 16,
"resolve": {"scale": {"xOffset": "independent"}},
"title": {"text": "Quality Performance", "offset": 9}
}
],
"spacing": 17,
"resolve": {"scale": {"xOffset": "independent"}},
"title": {"text": "(c) MUSHRA test results. Higher is better.", "orient": "bottom", "font": "Liberation Serif", "fontSize": 20, "color": "#000000", "offset": 11},
"config": {
"font": "Liberation Sans",
"view": {"stroke": null},
"axis": {"labelFont": "Liberation Sans", "titleFont": "Liberation Sans", "labelFontSize": 14, "titleFontSize": 14.5, "labelColor": "#262626", "titleColor": "#262626", "titleFontWeight": "normal", "domainColor": "#cccccc", "domainWidth": 1.3, "ticks": false, "gridColor": "#dedede", "gridWidth": 1, "labelPadding": 7, "titlePadding": 4},
"axisX": {"grid": false, "labelAngle": 0, "labelPadding": 6, "titlePadding": 3, "labelFontSize": 15},
"axisY": {"grid": true},
"title": {"font": "Liberation Sans", "fontSize": 17.4, "fontWeight": "normal", "color": "#262626", "anchor": "middle"},
"legend": {"direction": "horizontal", "columns": 4, "titleAnchor": "middle", "titleFont": "Liberation Sans", "titleFontSize": 14, "titleFontWeight": "normal", "titleColor": "#262626", "labelFont": "Liberation Sans", "labelFontSize": 13, "labelColor": "#262626", "symbolType": "M-2,-0.6L2,-0.6L2,0.6L-2,0.6Z", "symbolSize": 196, "symbolOffset": 7, "symbolStrokeColor": "#505050", "symbolStrokeWidth": 1.2, "symbolOpacity": 1, "labelOffset": 17, "columnPadding": 21, "rowPadding": 4, "strokeColor": "#d9d9d9", "cornerRadius": 4, "padding": 5, "titlePadding": 5}
}
}
